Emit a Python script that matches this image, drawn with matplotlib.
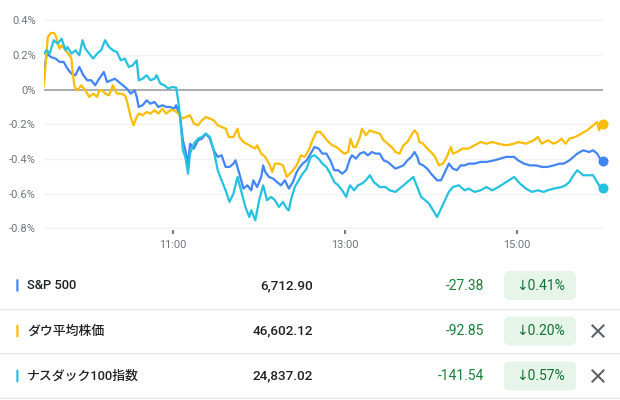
import matplotlib
matplotlib.use("Agg")
import matplotlib.pyplot as plt
from matplotlib.patches import FancyBboxPatch

plt.rcParams['font.family'] = ['Roboto', 'Noto Sans CJK JP', 'DejaVu Sans']

# ---------------- data ----------------
# minutes after 9:30 (market open) and % change vs previous close
sp_t = [0, 2.2, 5.0, 8.3, 11.0, 13.8, 16.5, 19.3, 22.1, 24.8, 27.6, 30.3, 33.1, 35.8, 38.6, 41.9, 44.1, 46.9,
        49.6, 52.4, 55.1, 57.9, 60.6, 63.4, 64.8, 66.2, 68.9, 71.7, 74.4, 77.2, 79.9, 82.7, 85.4, 88.2, 91.0,
        92.3, 95.1, 97.0, 98.7, 100.6, 102.0, 104.7, 107.5, 110.3, 113.0, 115.8, 118.5, 121.3, 124.0, 126.8,
        129.5, 132.3, 133.7, 136.4, 139.2, 142.0, 144.7, 146.1, 148.8, 151.6, 153.0, 154.4, 157.1, 159.9,
        162.6, 165.4, 168.1, 170.9, 173.7, 176.4, 177.8, 180.5, 183.3, 186.1, 188.8, 191.6, 194.3, 197.1,
        199.8, 202.6, 205.3, 208.1, 210.9, 213.6, 215.0, 217.7, 220.5, 223.3, 226.0, 228.8, 231.5, 234.3,
        237.0, 239.8, 242.6, 245.3, 248.1, 250.8, 253.6, 256.3, 258.5, 260.5, 261.9, 264.6, 267.4, 270.1,
        274.3, 277.0, 279.8, 282.5, 285.3, 288.0, 290.8, 293.5, 296.3, 300.4, 304.6, 308.7, 314.2, 318.4,
        322.5, 328.0, 330.8, 334.9, 339.0, 343.2, 347.3, 351.4, 355.6, 359.7, 362.5, 366.6, 372.1, 376.2,
        380.4, 383.1, 385.9, 388.6, 390]
sp_v = [0.112, 0.208, 0.188, 0.179, 0.160, 0.160, 0.121, 0.092, 0.083, 0.131, 0.083, 0.054, 0.054, 0.025,
        0.063, 0.102, 0.044, 0.054, 0.063, 0.044, 0.025, 0.006, -0.023, -0.004, -0.042, -0.100, -0.090,
        -0.062, -0.081, -0.071, -0.100, -0.090, -0.100, -0.100, -0.110, -0.090, -0.158, -0.292, -0.350,
        -0.427, -0.312, -0.340, -0.292, -0.283, -0.254, -0.283, -0.350, -0.388, -0.379, -0.446, -0.446,
        -0.427, -0.408, -0.485, -0.571, -0.552, -0.581, -0.523, -0.562, -0.504, -0.437, -0.475, -0.504,
        -0.513, -0.533, -0.552, -0.523, -0.571, -0.533, -0.475, -0.456, -0.427, -0.408, -0.369, -0.331,
        -0.340, -0.369, -0.369, -0.408, -0.465, -0.465, -0.485, -0.465, -0.398, -0.379, -0.398, -0.369,
        -0.360, -0.379, -0.360, -0.369, -0.369, -0.408, -0.417, -0.437, -0.456, -0.446, -0.437, -0.408,
        -0.388, -0.360, -0.388, -0.427, -0.437, -0.456, -0.485, -0.523, -0.523, -0.475, -0.427, -0.456,
        -0.465, -0.437, -0.437, -0.427, -0.427, -0.417, -0.417, -0.408, -0.398, -0.388, -0.388, -0.408,
        -0.427, -0.437, -0.437, -0.446, -0.446, -0.437, -0.427, -0.427, -0.408, -0.369, -0.350, -0.360,
        -0.350, -0.369, -0.408, -0.41]

dow_t = [0, 2.8, 5.0, 6.9, 8.3, 9.9, 11.0, 12.4, 15.2, 17.9, 19.3, 20.1, 21.5, 23.4, 26.2, 28.9, 31.7, 34.5,
         37.2, 38.6, 40.8, 42.7, 45.5, 48.2, 51.0, 53.7, 56.5, 57.9, 60.6, 62.6, 64.8, 66.2, 68.9, 71.7, 74.4,
         77.2, 79.9, 82.7, 85.4, 88.2, 91.0, 93.7, 96.5, 99.2, 102.0, 104.7, 107.5, 110.3, 113.0, 115.8,
         118.5, 121.3, 124.0, 126.8, 129.0, 132.3, 135.1, 136.4, 139.2, 143.3, 147.5, 148.8, 151.6, 154.4,
         157.1, 159.3, 161.2, 164.0, 166.8, 169.5, 173.7, 176.4, 179.2, 181.9, 184.7, 187.4, 190.2, 192.9,
         195.7, 198.5, 201.2, 204.0, 206.7, 209.5, 212.2, 213.9, 215.8, 217.7, 220.5, 221.9, 224.6, 227.4,
         230.2, 234.3, 237.0, 239.8, 242.6, 245.3, 248.1, 250.8, 253.6, 256.3, 258.5, 260.5, 261.9, 264.6,
         267.4, 270.1, 272.9, 275.6, 278.4, 281.1, 283.9, 285.3, 288.0, 292.2, 296.3, 300.4, 304.6, 308.7,
         312.8, 317.0, 322.5, 328.0, 330.8, 336.3, 341.8, 344.5, 347.3, 351.4, 355.6, 358.3, 361.1, 363.8,
         366.6, 370.7, 374.9, 379.0, 383.1, 385.9, 387.3, 388.6, 390]
dow_v = [0.019, 0.304, 0.327, 0.327, 0.313, 0.265, 0.237, 0.256, 0.227, 0.198, 0.179, 0.102, 0.015, -0.004,
         0.025, -0.004, -0.042, -0.023, -0.042, -0.004, -0.004, -0.023, -0.033, 0.025, -0.023, -0.023,
         -0.033, -0.062, -0.158, -0.206, -0.158, -0.138, -0.148, -0.129, -0.138, -0.119, -0.138, -0.110,
         -0.138, -0.119, -0.119, -0.138, -0.167, -0.158, -0.148, -0.196, -0.206, -0.177, -0.158, -0.167,
         -0.177, -0.206, -0.215, -0.225, -0.273, -0.273, -0.225, -0.273, -0.302, -0.321, -0.340, -0.321,
         -0.369, -0.388, -0.427, -0.475, -0.427, -0.427, -0.437, -0.504, -0.465, -0.437, -0.379, -0.388,
         -0.350, -0.292, -0.244, -0.244, -0.273, -0.302, -0.321, -0.331, -0.350, -0.369, -0.360, -0.283,
         -0.331, -0.331, -0.273, -0.225, -0.263, -0.235, -0.244, -0.254, -0.292, -0.312, -0.331, -0.360,
         -0.369, -0.321, -0.302, -0.263, -0.235, -0.254, -0.302, -0.312, -0.340, -0.360, -0.388, -0.437,
         -0.427, -0.388, -0.331, -0.369, -0.360, -0.340, -0.340, -0.321, -0.302, -0.312, -0.302, -0.312,
         -0.321, -0.312, -0.302, -0.312, -0.292, -0.273, -0.312, -0.292, -0.312, -0.302, -0.283, -0.312,
         -0.283, -0.273, -0.254, -0.235, -0.206, -0.187, -0.235, -0.196, -0.20]

ndx_t = [0, 2.2, 4.1, 6.9, 9.6, 12.4, 15.2, 16.5, 19.3, 22.1, 24.8, 27.0, 28.9, 31.7, 34.5, 37.2, 40.0, 42.7,
         45.5, 48.2, 51.0, 53.7, 56.5, 59.3, 62.0, 64.8, 66.2, 68.9, 71.7, 74.4, 77.2, 78.6, 81.3, 84.1, 86.8,
         89.6, 92.3, 93.7, 95.1, 97.0, 98.7, 100.6, 102.0, 104.7, 107.5, 110.3, 113.0, 115.8, 118.5, 121.3,
         124.0, 126.8, 129.5, 132.3, 135.1, 137.8, 140.6, 143.3, 144.7, 147.5, 150.2, 153.0, 155.7, 158.5,
         161.2, 164.0, 166.8, 169.5, 170.9, 172.3, 175.0, 177.8, 180.5, 183.3, 186.1, 188.8, 191.6, 194.3,
         197.1, 199.8, 202.6, 205.3, 208.1, 210.9, 212.2, 213.6, 216.4, 219.1, 221.9, 224.6, 227.4, 230.2,
         234.3, 238.4, 241.2, 245.3, 248.1, 250.8, 253.6, 257.7, 260.5, 263.2, 266.0, 268.7, 271.5, 274.3,
         277.0, 279.8, 282.5, 285.3, 289.4, 293.5, 296.3, 300.4, 304.6, 308.7, 312.8, 317.0, 322.5, 328.0,
         332.1, 336.3, 340.4, 344.5, 348.7, 351.4, 355.6, 361.1, 363.8, 366.6, 369.4, 372.1, 376.2, 380.4,
         383.1, 385.9, 388.6, 390]
ndx_v = [0.208, 0.227, 0.208, 0.285, 0.265, 0.294, 0.227, 0.246, 0.208, 0.227, 0.198, 0.285, 0.237, 0.208,
         0.179, 0.208, 0.227, 0.285, 0.246, 0.227, 0.217, 0.169, 0.179, 0.131, 0.140, 0.169, 0.054, 0.063,
         0.083, 0.054, 0.063, 0.083, 0.035, 0.025, 0.006, 0.015, 0.012, -0.062, -0.158, -0.350, -0.388,
         -0.485, -0.369, -0.312, -0.283, -0.273, -0.254, -0.273, -0.350, -0.465, -0.523, -0.581, -0.648,
         -0.600, -0.504, -0.590, -0.677, -0.735, -0.696, -0.754, -0.638, -0.552, -0.638, -0.619, -0.638,
         -0.677, -0.648, -0.687, -0.696, -0.638, -0.562, -0.523, -0.485, -0.456, -0.388, -0.379, -0.398,
         -0.427, -0.446, -0.485, -0.533, -0.552, -0.581, -0.619, -0.581, -0.552, -0.581, -0.552, -0.542,
         -0.523, -0.494, -0.533, -0.562, -0.562, -0.581, -0.590, -0.571, -0.552, -0.533, -0.504, -0.562,
         -0.619, -0.638, -0.658, -0.696, -0.735, -0.687, -0.638, -0.590, -0.562, -0.552, -0.581, -0.571,
         -0.590, -0.581, -0.562, -0.581, -0.562, -0.533, -0.504, -0.542, -0.571, -0.590, -0.581, -0.590,
         -0.581, -0.571, -0.562, -0.552, -0.533, -0.494, -0.465, -0.494, -0.494, -0.494, -0.533, -0.571,
         -0.57]

y_ticks = [0.4, 0.2, 0.0, -0.2, -0.4, -0.6, -0.8]
y_labels = ["0.4%", "0.2%", "0%", "-0.2%", "-0.4%", "-0.6%", "-0.8%"]
x_labels = ["11:00", "13:00", "15:00"]

names = ["S&P 500", "ダウ平均株価", "ナスダック100指数"]
prices = ["6,712.90", "46,602.12", "24,837.02"]
changes = ["-27.38", "-92.85", "-141.54"]
pcts = ["0.41%", "0.20%", "0.57%"]
removable = [False, True, True]

colors = ["#4285F4", "#FBBC04", "#24C1E0"]
series = [(sp_t, sp_v), (dow_t, dow_v), (ndx_t, ndx_v)]

# ---------------- figure ----------------
W, H = 620, 400
fig = plt.figure(figsize=(W / 100, H / 100), dpi=100)
fig.patch.set_facecolor("white")

y_lo, y_hi = -0.81, 0.41
px_per = 208.0 / 1.2
top_px = 20.3 - (y_hi - 0.4) * px_per
bot_px = 228.3 + (-0.8 - y_lo) * px_per
left_px, right_px = 43.8, 603.0
ax = fig.add_axes([left_px / W, 1 - bot_px / H, (right_px - left_px) / W, (bot_px - top_px) / H])
ax.set_xlim(0, 390)
ax.set_ylim(y_lo, y_hi)
for s in ax.spines.values():
    s.set_visible(False)

for yv in y_ticks:
    if yv == 0:
        ax.axhline(yv, color="#9aa0a6", lw=1.2, zorder=1)
    else:
        ax.axhline(yv, color="#f1f3f4", lw=1.0, zorder=0)

ax.set_yticks(y_ticks, y_labels)
xt = [(int(l.split(":")[0]) - 9.5) * 60 for l in x_labels]
ax.set_xticks(xt, x_labels)
ax.tick_params(axis="y", length=0, pad=5.5, labelsize=8.1, labelcolor="#70757a")
ax.tick_params(axis="x", length=3, width=1.2, color="#5f6368", pad=4, labelsize=7.9,
               labelcolor="#70757a", direction="out")

for (t, v), c in zip(series, colors):
    ax.plot(t, v, color=c, lw=1.6, zorder=3, solid_joinstyle="round")
    ax.plot([t[-1]], [v[-1]], "o", color=c, ms=6.2, zorder=4, clip_on=False)

# ---------------- table (pixel-space overlay) ----------------
tax = fig.add_axes([0, 0, 1, 0.35])
tax.set_xlim(0, W)
tax.set_ylim(H, H - 0.35 * H)
tax.axis("off")

row_y = [285.5, 331.0, 376.0]
sep_y = [308.5, 353.0, 397.5]
for sy in sep_y:
    tax.plot([0, W], [sy, sy], color="#e3e5e8", lw=0.9)

for i, cy in enumerate(row_y):
    tax.add_patch(FancyBboxPatch((16.3, cy - 6.3), 2.2, 12.6,
                                 boxstyle="round,pad=0,rounding_size=1.1",
                                 fc=colors[i], ec="none"))
    tax.text(27, cy, names[i], ha="left", va="center", fontsize=9.3, color="#202124",
             fontweight="medium")
    tax.text(312.7, cy, prices[i], ha="right", va="center", fontsize=9.7, color="#202124",
             fontweight="medium")
    tax.text(484, cy, changes[i], ha="right", va="center", fontsize=10.0, color="#188038")
    tax.add_patch(FancyBboxPatch((504, cy - 14.5), 72, 29,
                                 boxstyle="round,pad=0,rounding_size=6",
                                 fc="#e6f4ea", ec="none"))
    tax.text(541, cy, "\u2193" + pcts[i], ha="center", va="center", fontsize=10.0,
             color="#137333", family=["Roboto", "DejaVu Sans"])
    if removable[i]:
        d = 5.5
        tax.plot([598 - d, 598 + d], [cy - d, cy + d], color="#5f6368", lw=1.5)
        tax.plot([598 - d, 598 + d], [cy + d, cy - d], color="#5f6368", lw=1.5)

fig.savefig("out.png", dpi=100, facecolor="white")
